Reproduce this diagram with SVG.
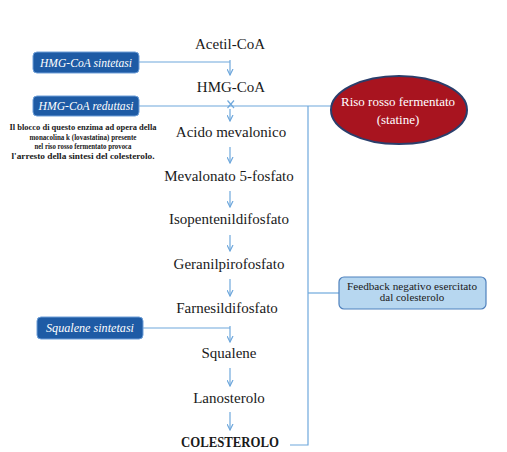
<svg xmlns="http://www.w3.org/2000/svg" width="507" height="452" viewBox="0 0 507 452">
  <style>
    .step { font-family: "Liberation Serif", "DejaVu Serif", serif; font-size: 15px; fill: #1a1a1a; text-anchor: middle; }
    .enz rect { fill: #1E5BA5; stroke: #6E9FD8; stroke-width: 1; }
    .enz text { font-family: "Liberation Serif", "DejaVu Serif", serif; font-style: italic; font-size: 12px; fill: #ffffff; text-anchor: middle; }
    .note { font-family: "Liberation Serif", "DejaVu Serif", serif; font-weight: bold; font-size: 9px; fill: #1a1a1a; text-anchor: middle; }
    .conn line, .conn polyline { stroke: #6FA8DC; stroke-width: 1.2; fill: none; }
    .arr { stroke: #6FA8DC; stroke-width: 1.2; fill: none; marker-end: url(#ah); }
  </style>
  <defs>
    <marker id="ah" markerUnits="userSpaceOnUse" markerWidth="7" markerHeight="7" refX="6" refY="3.5" orient="auto">
      <path d="M0,0.5 L6,3.5 L0,6.5" fill="none" stroke="#6FA8DC" stroke-width="1.2"/>
    </marker>
  </defs>
  <rect width="507" height="452" fill="#ffffff"/>

  <g id="connectors" class="conn">
    <line x1="139" y1="62" x2="230" y2="62"/>
    <line x1="139" y1="106" x2="332" y2="106"/>
    <line x1="143" y1="328" x2="230" y2="328"/>
    <polyline points="308,106 308,445 290,445"/>
    <line x1="308" y1="293" x2="339" y2="293"/>
    <line class="arr" x1="230" y1="60" x2="230" y2="75"/>
    <line class="arr" x1="230" y1="109" x2="230" y2="121"/>
    <line class="arr" x1="230" y1="147" x2="230" y2="163"/>
    <line class="arr" x1="230" y1="191" x2="230" y2="207"/>
    <line class="arr" x1="230" y1="235" x2="230" y2="251"/>
    <line class="arr" x1="230" y1="279" x2="230" y2="296"/>
    <line class="arr" x1="230" y1="326" x2="230" y2="342"/>
    <line class="arr" x1="230" y1="368" x2="230" y2="386"/>
    <line class="arr" x1="230" y1="412" x2="230" y2="430"/>
    <g id="block-x" stroke="#E0303A" stroke-width="1.7">
      <line x1="227.5" y1="100.5" x2="234" y2="108"/>
      <line x1="234" y1="100.5" x2="227.5" y2="108"/>
    </g>
  </g>

  <g id="acetil-coa"><text class="step" x="230" y="49">Acetil-CoA</text></g>
  <g id="hmg-coa"><text class="step" x="231" y="92">HMG-CoA</text></g>
  <g id="acido-mevalonico"><text class="step" x="231" y="137">Acido mevalonico</text></g>
  <g id="mevalonato"><text class="step" x="229" y="181">Mevalonato 5-fosfato</text></g>
  <g id="isopentenil"><text class="step" x="229" y="224">Isopentenildifosfato</text></g>
  <g id="geranil"><text class="step" x="229" y="269">Geranilpirofosfato</text></g>
  <g id="farnesil"><text class="step" x="227" y="313">Farnesildifosfato</text></g>
  <g id="squalene"><text class="step" x="229" y="358">Squalene</text></g>
  <g id="lanosterolo"><text class="step" x="229" y="403">Lanosterolo</text></g>
  <g id="colesterolo"><text class="step" x="230" y="447" style="font-weight:bold;font-size:14px" textLength="98" lengthAdjust="spacingAndGlyphs">COLESTEROLO</text></g>

  <g id="hmg-sintetasi" class="enz">
    <rect x="33" y="52" width="106" height="21" rx="4"/>
    <text x="86" y="66.5" textLength="92" lengthAdjust="spacingAndGlyphs">HMG-CoA sintetasi</text>
  </g>
  <g id="hmg-reduttasi" class="enz">
    <rect x="33" y="96" width="106" height="20" rx="4"/>
    <text x="86" y="110" textLength="95" lengthAdjust="spacingAndGlyphs">HMG-CoA reduttasi</text>
  </g>
  <g id="squalene-sintetasi" class="enz">
    <rect x="37" y="317" width="106" height="22" rx="4"/>
    <text x="90" y="332" textLength="88" lengthAdjust="spacingAndGlyphs">Squalene sintetasi</text>
  </g>

  <g id="nota">
    <text class="note" x="83" y="130" textLength="147" lengthAdjust="spacingAndGlyphs">Il blocco di questo enzima ad opera della</text>
    <text class="note" x="83" y="139.5" textLength="107" lengthAdjust="spacingAndGlyphs">monacolina k (lovastatina) presente</text>
    <text class="note" x="83" y="149" textLength="97" lengthAdjust="spacingAndGlyphs">nel riso rosso fermentato provoca</text>
    <text class="note" x="83" y="158.5" textLength="143" lengthAdjust="spacingAndGlyphs">l'arresto della sintesi del colesterolo.</text>
  </g>

  <g id="riso-rosso">
    <ellipse cx="399" cy="110" rx="68" ry="34" fill="#A8141F" stroke="#2B3E6B" stroke-width="2"/>
    <text x="398" y="106" font-family="Liberation Serif, DejaVu Serif, serif" font-size="13" fill="#ffffff" text-anchor="middle" textLength="114" lengthAdjust="spacingAndGlyphs">Riso rosso fermentato</text>
    <text x="398" y="124" font-family="Liberation Serif, DejaVu Serif, serif" font-size="13" fill="#ffffff" text-anchor="middle">(statine)</text>
  </g>

  <g id="feedback">
    <rect x="339" y="277" width="147" height="32" rx="5" fill="#B7D7F0" stroke="#4F81BD" stroke-width="1.2"/>
    <text x="412" y="289.5" font-family="Liberation Serif, DejaVu Serif, serif" font-size="11" fill="#1a1a1a" text-anchor="middle" textLength="130" lengthAdjust="spacingAndGlyphs">Feedback negativo esercitato</text>
    <text x="412" y="300.5" font-family="Liberation Serif, DejaVu Serif, serif" font-size="11" fill="#1a1a1a" text-anchor="middle">dal colesterolo</text>
  </g>
</svg>
